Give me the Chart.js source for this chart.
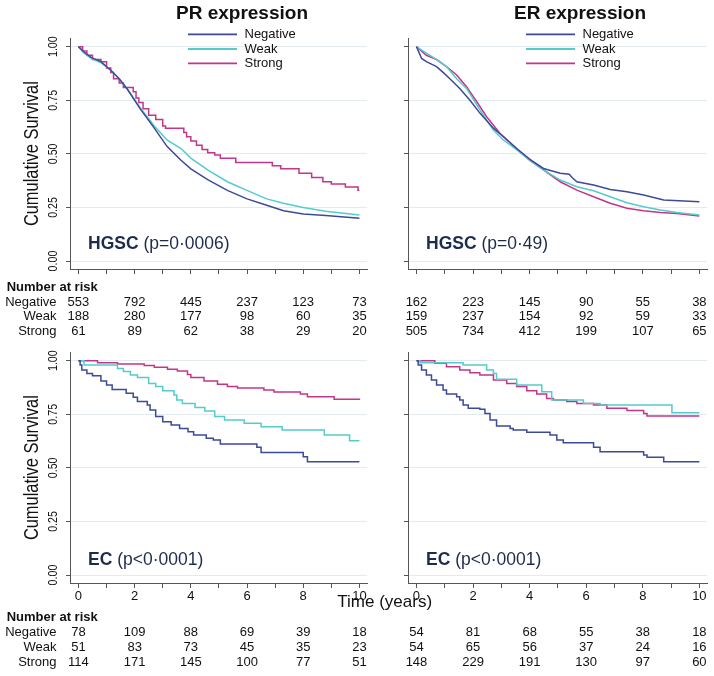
<!DOCTYPE html>
<html><head><meta charset="utf-8">
<script src="https://cdn.jsdelivr.net/npm/chart.js@4.4.1/dist/chart.umd.min.js"></script>
<style>
html,body{margin:0;padding:0;background:#fff;width:714px;height:676px;overflow:hidden;position:relative}
canvas{position:absolute}
</style></head><body>
<canvas id="c1" width="372" height="338" style="left:0;top:0"></canvas>
<canvas id="c3" width="450" height="338" style="left:0;top:338px"></canvas>
<canvas id="c2" width="342" height="338" style="left:372px;top:0"></canvas>
<canvas id="c4" width="342" height="338" style="left:372px;top:338px"></canvas>
<script>
// ---------- data ----------
const groups = ['Negative', 'Weak', 'Strong'];
const years = [0, 2, 4, 6, 8, 10];
const xTicks = [0, 1, 2, 3, 4, 5, 6, 7, 8, 9, 10];
const xTickLabels = ['0', '', '2', '', '4', '', '6', '', '8', '', '10'];
const yTicks = [0, 0.25, 0.5, 0.75, 1];
const yTickLabels = ['0.00', '0.25', '0.50', '0.75', '1.00'];

// PR expression, HGSC
const prHgscNegT = [0, 0.2, 0.45, 0.8, 1.15, 1.45, 1.75, 2.2, 2.7, 3.15, 3.65, 4.0, 4.6, 5.3, 6.0, 6.7, 7.3, 8.0, 8.8, 10];
const prHgscNegS = [1, 0.975, 0.95, 0.93, 0.89, 0.85, 0.80, 0.71, 0.62, 0.535, 0.47, 0.43, 0.38, 0.33, 0.29, 0.26, 0.235, 0.22, 0.212, 0.20];
const prHgscWeakT = [0, 0.2, 0.45, 0.8, 1.15, 1.45, 1.75, 2.2, 2.7, 3.15, 3.65, 4.0, 4.6, 5.3, 6.0, 6.7, 7.3, 8.0, 8.8, 10];
const prHgscWeakS = [1, 0.97, 0.945, 0.925, 0.89, 0.85, 0.80, 0.715, 0.63, 0.565, 0.525, 0.48, 0.425, 0.37, 0.33, 0.29, 0.27, 0.25, 0.232, 0.215];
const prHgscStrT = [0, 0.15, 0.3, 0.5, 0.8, 1.0, 1.15, 1.25, 1.45, 1.6, 1.95, 2.05, 2.15, 2.3, 2.5, 2.75, 3.0, 3.1, 3.75, 3.85, 4.0, 4.2, 4.4, 4.6, 4.85, 5.05, 5.6, 6.9, 7.2, 7.85, 8.3, 8.7, 9.0, 9.5, 9.95, 10];
const prHgscStrS = [1, 0.98, 0.96, 0.94, 0.93, 0.9, 0.88, 0.85, 0.83, 0.81, 0.79, 0.76, 0.74, 0.71, 0.68, 0.66, 0.63, 0.62, 0.60, 0.58, 0.56, 0.54, 0.52, 0.505, 0.495, 0.48, 0.46, 0.445, 0.43, 0.41, 0.39, 0.37, 0.36, 0.345, 0.33, 0.33];

// ER expression, HGSC
const erHgscNegT = [0, 0.1, 0.18, 0.35, 0.71, 0.94, 1.18, 1.53, 1.89, 2.24, 2.72, 3.07, 3.54, 4.01, 4.49, 5.08, 5.4, 5.5, 5.67, 6.26, 6.85, 7.44, 8.03, 8.74, 10];
const erHgscNegS = [1, 0.97, 0.945, 0.93, 0.907, 0.88, 0.85, 0.805, 0.75, 0.69, 0.62, 0.58, 0.525, 0.474, 0.432, 0.41, 0.405, 0.39, 0.37, 0.355, 0.334, 0.323, 0.308, 0.285, 0.277];
const erHgscWeakT = [0, 0.35, 0.71, 1.06, 1.42, 1.77, 2.24, 2.72, 3.07, 3.54, 4.01, 4.49, 5.08, 5.67, 6.26, 6.85, 7.44, 8.03, 8.62, 9.21, 10];
const erHgscWeakS = [1, 0.97, 0.94, 0.907, 0.85, 0.805, 0.705, 0.61, 0.565, 0.52, 0.47, 0.425, 0.378, 0.347, 0.328, 0.30, 0.272, 0.253, 0.238, 0.227, 0.215];
const erHgscStrT = [0, 0.35, 0.71, 1.06, 1.42, 1.77, 2.13, 2.48, 2.95, 3.54, 4.01, 4.49, 5.08, 5.67, 6.26, 6.85, 7.44, 8.03, 8.62, 9.21, 10];
const erHgscStrS = [1, 0.96, 0.94, 0.907, 0.868, 0.813, 0.743, 0.673, 0.596, 0.525, 0.47, 0.425, 0.37, 0.331, 0.30, 0.27, 0.246, 0.235, 0.227, 0.222, 0.21];

// PR expression, EC
const prEcNegT = [0, 0.06, 0.12, 0.3, 0.5, 0.8, 1.0, 1.2, 1.7, 1.95, 2.1, 2.45, 2.55, 2.75, 3.0, 3.3, 3.6, 3.9, 4.1, 4.55, 4.8, 5.05, 6.35, 6.5, 8.0, 8.15, 10];
const prEcNegS = [1, 0.98, 0.956, 0.94, 0.93, 0.905, 0.886, 0.866, 0.848, 0.829, 0.809, 0.793, 0.77, 0.739, 0.715, 0.70, 0.684, 0.669, 0.653, 0.638, 0.63, 0.611, 0.596, 0.572, 0.552, 0.529, 0.529];
const prEcWeakT = [0, 0.2, 1.39, 1.6, 1.85, 2.1, 2.5, 2.75, 3.0, 3.4, 3.5, 3.7, 4.15, 4.5, 4.85, 5.2, 5.9, 6.5, 7.25, 8.75, 9.65, 10];
const prEcWeakS = [1, 0.98, 0.964, 0.95, 0.933, 0.922, 0.894, 0.879, 0.86, 0.84, 0.816, 0.80, 0.782, 0.765, 0.739, 0.723, 0.708, 0.692, 0.677, 0.653, 0.627, 0.627];
const prEcStrT = [0, 0.68, 1.39, 2.34, 2.7, 3.17, 3.52, 3.88, 4.0, 4.47, 4.95, 5.3, 5.66, 6.6, 6.96, 7.9, 8.15, 9.1, 10];
const prEcStrS = [1, 0.99, 0.985, 0.977, 0.969, 0.96, 0.952, 0.936, 0.922, 0.905, 0.89, 0.879, 0.872, 0.863, 0.854, 0.845, 0.832, 0.82, 0.816];

// ER expression, EC
const erEcNegT = [0, 0.06, 0.18, 0.35, 0.53, 0.71, 0.94, 1.06, 1.42, 1.53, 1.65, 1.83, 2.24, 2.42, 2.6, 2.83, 3.31, 3.42, 3.9, 4.72, 4.96, 5.19, 6.26, 6.49, 8.03, 8.15, 8.74, 10];
const erEcNegS = [1, 0.98, 0.956, 0.933, 0.91, 0.886, 0.863, 0.845, 0.832, 0.816, 0.793, 0.778, 0.773, 0.754, 0.723, 0.695, 0.684, 0.677, 0.666, 0.653, 0.63, 0.617, 0.596, 0.575, 0.56, 0.549, 0.529, 0.529];
const erEcWeakT = [0, 0.12, 1.65, 2.48, 2.72, 2.83, 3.54, 4.43, 4.78, 5.9, 6.49, 9.03, 10];
const erEcWeakS = [1, 0.99, 0.98, 0.956, 0.94, 0.913, 0.886, 0.855, 0.816, 0.80, 0.793, 0.757, 0.757];
const erEcStrT = [0, 0.65, 1.06, 1.53, 1.89, 2.24, 2.72, 3.19, 3.54, 3.9, 4.25, 4.6, 4.84, 5.31, 5.67, 6.26, 6.73, 7.44, 8.03, 8.15, 10];
const erEcStrS = [1, 0.988, 0.972, 0.956, 0.944, 0.933, 0.91, 0.894, 0.879, 0.86, 0.845, 0.824, 0.816, 0.809, 0.80, 0.793, 0.778, 0.767, 0.754, 0.742, 0.742];

// Number at risk
const riskPrHgscNeg = [553, 792, 445, 237, 123, 73];
const riskPrHgscWeak = [188, 280, 177, 98, 60, 35];
const riskPrHgscStr = [61, 89, 62, 38, 29, 20];
const riskErHgscNeg = [162, 223, 145, 90, 55, 38];
const riskErHgscWeak = [159, 237, 154, 92, 59, 33];
const riskErHgscStr = [505, 734, 412, 199, 107, 65];
const riskPrEcNeg = [78, 109, 88, 69, 39, 18];
const riskPrEcWeak = [51, 83, 73, 45, 35, 23];
const riskPrEcStr = [114, 171, 145, 100, 77, 51];
const riskErEcNeg = [54, 81, 68, 55, 38, 18];
const riskErEcWeak = [54, 65, 56, 37, 24, 16];
const riskErEcStr = [148, 229, 191, 130, 97, 60];

// ---------- style ----------
const colors = ['#3d4a99', '#55cbcc', '#c2368a'];
const FONT = '"Liberation Sans", Arial, Helvetica, sans-serif';
const AXIS = '#555';

function makeDecor(p) {
  return {
    id: 'panelDecor',
    afterDraw(chart) {
      const ctx = chart.ctx, xs = chart.scales.x, ys = chart.scales.y, ca = chart.chartArea;
      ctx.save();
      ctx.textBaseline = 'middle';
      if (p.title) {
        ctx.font = 'bold 19px ' + FONT; ctx.fillStyle = '#111'; ctx.textAlign = 'center';
        ctx.fillText(p.title, ca.left + 172, 14);
        const ly = [34.3, 49, 63.3];
        groups.forEach((g, i) => {
          ctx.strokeStyle = colors[i]; ctx.lineWidth = 1.8;
          ctx.beginPath(); ctx.moveTo(ca.left + 118, ly[i]); ctx.lineTo(ca.left + 167, ly[i]); ctx.stroke();
          ctx.font = '13px ' + FONT; ctx.fillStyle = '#111'; ctx.textAlign = 'left';
          ctx.fillText(g, ca.left + 174.5, ly[i]);
        });
      }
      if (p.yLabels) {
        ctx.font = '13px ' + FONT; ctx.fillStyle = '#111'; ctx.textAlign = 'center';
        yTicks.forEach((v, i) => {
          const py = ys.getPixelForValue(v);
          ctx.save(); ctx.translate(ca.left - 16.5, py); ctx.rotate(-Math.PI / 2); ctx.scale(0.82, 1);
          ctx.fillText(yTickLabels[i], 0, 0); ctx.restore();
        });
        ctx.save(); ctx.translate(ca.left - 37.5, (ca.top + ca.bottom) / 2); ctx.rotate(-Math.PI / 2); ctx.scale(0.82, 1);
        ctx.font = '20px ' + FONT; ctx.fillText('Cumulative Survival', 0, 0); ctx.restore();
      }
      // annotation
      ctx.textAlign = 'left'; ctx.fillStyle = '#1f2b4d';
      ctx.font = 'bold 17.5px ' + FONT;
      const ax = ca.left + 18, ay = ca.bottom - p.annotDy;
      ctx.fillText(p.annotBold, ax, ay);
      const w = ctx.measureText(p.annotBold + ' ').width;
      ctx.font = '17.5px ' + FONT;
      ctx.fillText(p.annotText, ax + w, ay);
      // time label
      if (p.timeLabel) {
        ctx.font = '17px ' + FONT; ctx.fillStyle = '#111'; ctx.textAlign = 'center';
        ctx.fillText(p.timeLabel, ca.right + 17.7, ca.bottom + 19.7);
      }
      // number at risk
      ctx.fillStyle = '#111';
      if (p.rowLabels) {
        ctx.font = 'bold 13px ' + FONT; ctx.textAlign = 'left';
        ctx.fillText('Number at risk', ca.left - 63.3, ca.bottom + p.riskDy[0]);
        ctx.font = '13px ' + FONT; ctx.textAlign = 'right';
        groups.forEach((g, i) => ctx.fillText(g, ca.left - 13.5, ca.bottom + p.riskDy[i + 1]));
      }
      ctx.font = '13px ' + FONT; ctx.textAlign = 'center';
      p.risk.forEach((row, i) => {
        row.forEach((n, j) => ctx.fillText(String(n), xs.getPixelForValue(years[j]), ca.bottom + p.riskDy[i + 1]));
      });
      ctx.restore();
    }
  };
}

function makeChart(id, p) {
  const datasets = p.curves.map((c, i) => ({
    label: groups[i],
    data: c[0].map((t, j) => ({ x: t, y: c[1][j] })),
    borderColor: colors[i], borderWidth: 1.5, pointRadius: 0, fill: false, tension: 0,
    stepped: c[2] ? 'before' : false
  }));
  new Chart(document.getElementById(id), {
    type: 'line',
    data: { datasets },
    options: {
      responsive: false, animation: false, devicePixelRatio: 1,
      layout: { padding: { top: p.padTop, right: p.padRight, left: 0, bottom: 0 } },
      plugins: { legend: { display: false }, tooltip: { enabled: false }, title: { display: false } },
      scales: {
        x: {
          type: 'linear', min: -0.3, max: 10.27,
          afterBuildTicks: s => { s.ticks = xTicks.map(v => ({ value: v })); },
          afterFit: s => { s.height = p.xAxisH; },
          grid: { drawOnChartArea: false, drawTicks: true, tickLength: 5, tickColor: AXIS, color: AXIS },
          border: { display: true, color: AXIS, width: 1 },
          ticks: {
            display: p.xLabels, autoSkip: false, maxRotation: 0, padding: 1, color: '#111',
            font: { size: 13, family: FONT },
            callback: (v, i) => xTickLabels[xTicks.indexOf(v)]
          }
        },
        y: {
          min: -0.037, max: 1.039,
          afterBuildTicks: s => { s.ticks = yTicks.map(v => ({ value: v })); },
          afterFit: s => { s.width = p.yAxisW; },
          grid: { color: '#e3ebee', tickColor: AXIS, tickLength: 4, drawTicks: true },
          border: { display: true, color: AXIS, width: 1 },
          ticks: { display: false }
        }
      }
    },
    plugins: [makeDecor(p)]
  });
}

makeChart('c1', {
  title: 'PR expression', yLabels: true, rowLabels: true, xLabels: false,
  padTop: 38.3, padRight: 5, yAxisW: 70, xAxisH: 69,
  annotBold: 'HGSC', annotText: '(p=0\u00b70006)', annotDy: 25,
  riskDy: [18, 33.7, 47.5, 62],
  risk: [riskPrHgscNeg, riskPrHgscWeak, riskPrHgscStr],
  curves: [[prHgscNegT, prHgscNegS, false], [prHgscWeakT, prHgscWeakS, false], [prHgscStrT, prHgscStrS, true]]
});
makeChart('c2', {
  title: 'ER expression', yLabels: false, rowLabels: false, xLabels: false,
  padTop: 38.3, padRight: 7, yAxisW: 36, xAxisH: 69,
  annotBold: 'HGSC', annotText: '(p=0\u00b749)', annotDy: 25,
  riskDy: [18, 33.7, 47.5, 62],
  risk: [riskErHgscNeg, riskErHgscWeak, riskErHgscStr],
  curves: [[erHgscNegT, erHgscNegS, false], [erHgscWeakT, erHgscWeakS, false], [erHgscStrT, erHgscStrS, false]]
});
makeChart('c3', {
  title: null, yLabels: true, rowLabels: true, xLabels: true, timeLabel: 'Time (years)',
  padTop: 14.3, padRight: 83, yAxisW: 70, xAxisH: 93,
  annotBold: 'EC', annotText: '(p<0\u00b70001)', annotDy: 23,
  riskDy: [34.7, 49.7, 64, 79],
  risk: [riskPrEcNeg, riskPrEcWeak, riskPrEcStr],
  curves: [[prEcNegT, prEcNegS, true], [prEcWeakT, prEcWeakS, true], [prEcStrT, prEcStrS, true]]
});
makeChart('c4', {
  title: null, yLabels: false, rowLabels: false, xLabels: true,
  padTop: 14.3, padRight: 7, yAxisW: 36, xAxisH: 93,
  annotBold: 'EC', annotText: '(p<0\u00b70001)', annotDy: 23,
  riskDy: [34.7, 49.7, 64, 79],
  risk: [riskErEcNeg, riskErEcWeak, riskErEcStr],
  curves: [[erEcNegT, erEcNegS, true], [erEcWeakT, erEcWeakS, true], [erEcStrT, erEcStrS, true]]
});
</script>
</body></html>
